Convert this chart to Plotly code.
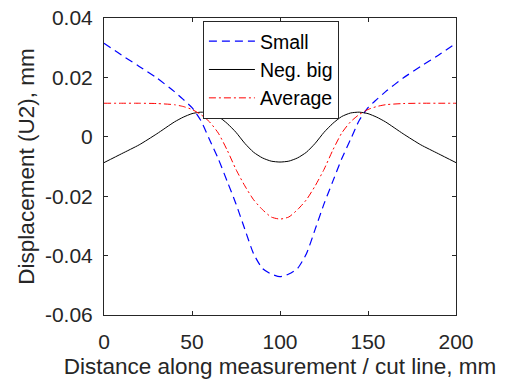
import plotly.graph_objects as go

distance = [0, 10, 20, 30, 40, 45, 50, 55, 60, 65, 70, 75, 80, 85, 90, 95, 100,
            105, 110, 115, 120, 125, 130, 135, 140, 145, 150, 155, 160, 170, 180, 190, 200]

small = [0.0315, 0.0275, 0.0237, 0.0198, 0.0152, 0.0126, 0.0098, 0.0055, -0.0010,
         -0.0075, -0.0150, -0.0226, -0.0311, -0.0394, -0.0443, -0.0462, -0.0471,
         -0.0462, -0.0443, -0.0394, -0.0311, -0.0226, -0.0150, -0.0075, -0.0010,
         0.0055, 0.0098, 0.0126, 0.0152, 0.0198, 0.0237, 0.0275, 0.0315]

neg_big = [-0.0087, -0.0057, -0.0027, 0.0010, 0.0050, 0.0066, 0.0078, 0.0083, 0.0080,
           0.0068, 0.0045, 0.0015, -0.0022, -0.0052, -0.0071, -0.0082, -0.0085,
           -0.0082, -0.0071, -0.0052, -0.0022, 0.0015, 0.0045, 0.0068, 0.0080,
           0.0083, 0.0078, 0.0066, 0.0050, 0.0010, -0.0027, -0.0057, -0.0087]

average = [0.0113, 0.0113, 0.0113, 0.0112, 0.0108, 0.0102, 0.0092, 0.0075, 0.0050,
           0.0012, -0.0045, -0.0110, -0.0165, -0.0212, -0.0245, -0.0270, -0.0277,
           -0.0270, -0.0245, -0.0212, -0.0165, -0.0110, -0.0045, 0.0012, 0.0050,
           0.0075, 0.0092, 0.0102, 0.0108, 0.0112, 0.0113, 0.0113, 0.0113]

x_ticks = [0, 50, 100, 150, 200]
y_ticks = [-0.06, -0.04, -0.02, 0, 0.02, 0.04]
y_tick_text = ["-0.06", "-0.04", "-0.02", "0", "0.02", "0.04"]

FONT = "Liberation Sans, Arial, Helvetica, sans-serif"
AX = "#262626"

fig = go.Figure()
fig.add_trace(go.Scatter(x=distance, y=small, mode="lines", name="Small",
                         line=dict(color="#0000ff", width=1.2, dash="8px,5px", shape="spline", smoothing=0.6)))
fig.add_trace(go.Scatter(x=distance, y=neg_big, mode="lines", name="Neg. big",
                         line=dict(color="#000000", width=1.0, shape="spline", smoothing=0.6)))
fig.add_trace(go.Scatter(x=distance, y=average, mode="lines", name="Average",
                         line=dict(color="#ff0000", width=1.0, dash="7px,3px,2px,3px", shape="spline", smoothing=0.6)))

fig.update_layout(
    width=514, height=383,
    margin=dict(l=104, r=58, t=18, b=68, autoexpand=False),
    paper_bgcolor="white", plot_bgcolor="white",
    font=dict(family=FONT, size=21, color=AX),
    showlegend=True,
    legend=dict(x=0.281, y=0.99, xanchor="left", yanchor="top",
                bgcolor="white", bordercolor=AX, borderwidth=1,
                font=dict(size=19.5, color="#000000"),
                tracegroupgap=0, itemwidth=46),
)
fig.update_xaxes(range=[0, 200], tickvals=x_ticks, ticks="inside", ticklen=4,
                 tickcolor=AX, showline=True, linecolor=AX, linewidth=1,
                 mirror="allticks", showgrid=False, zeroline=False, automargin=False,
                 tickfont=dict(size=21, color=AX), ticklabelstandoff=8,
                 title=dict(text="Distance along measurement / cut line, mm",
                            font=dict(size=22.5, color=AX), standoff=6))
fig.update_yaxes(range=[-0.06, 0.04], tickvals=y_ticks, ticktext=y_tick_text,
                 ticks="inside", ticklen=4,
                 tickcolor=AX, showline=True, linecolor=AX, linewidth=1,
                 mirror="allticks", showgrid=False, zeroline=False, automargin=False,
                 tickfont=dict(size=21, color=AX), ticklabelstandoff=6,
                 title=dict(text="Displacement (U2), mm",
                            font=dict(size=22.5, color=AX), standoff=4))

fig.write_html("out.html", config={"displayModeBar": False},
               post_script="document.body.style.margin='0';")
